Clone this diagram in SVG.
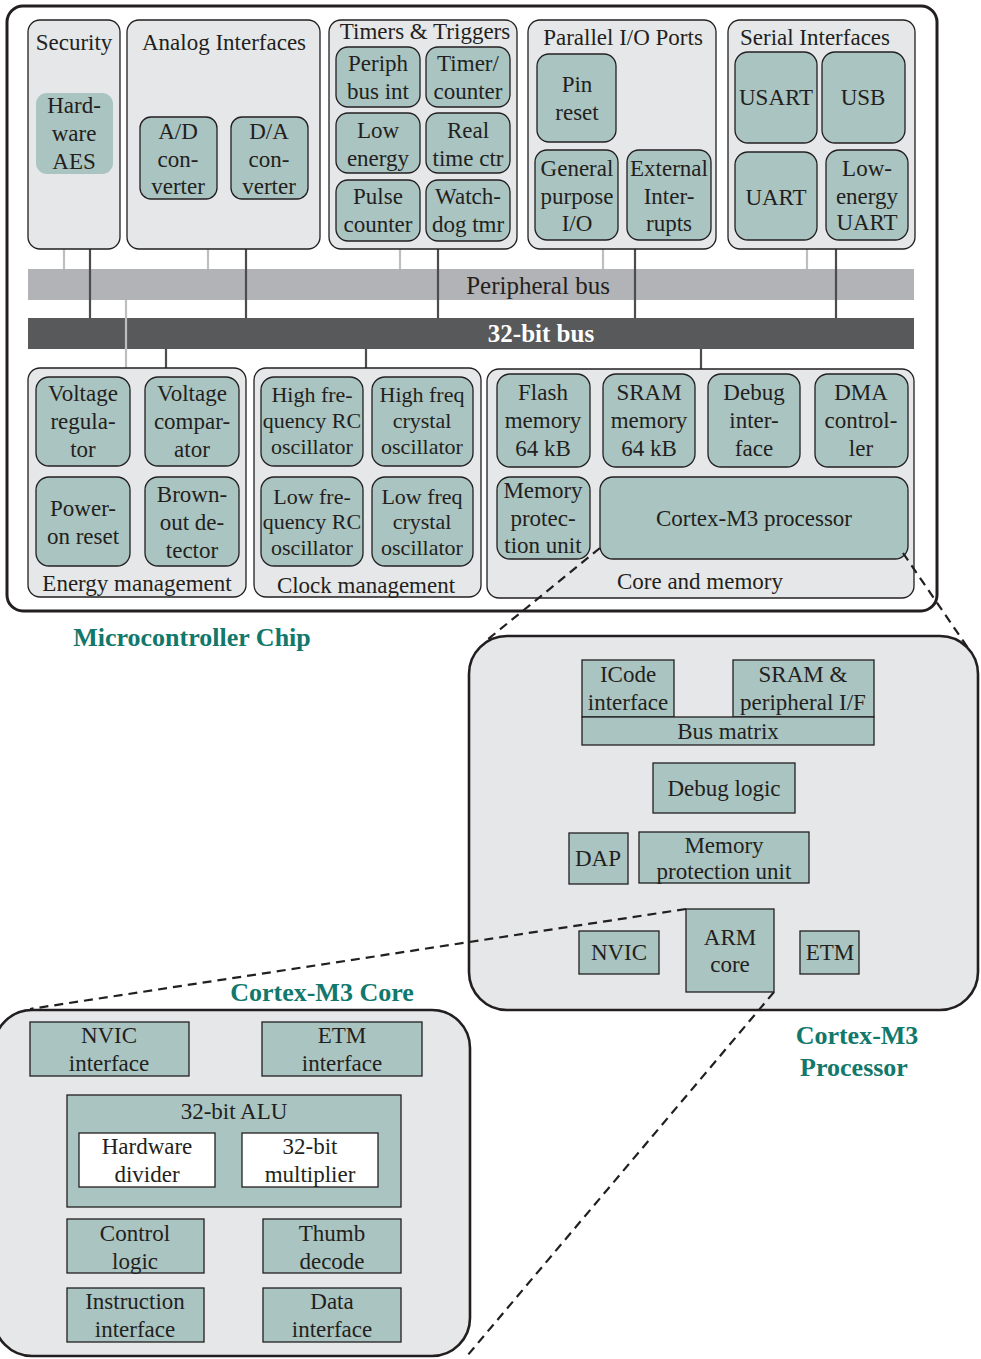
<svg xmlns="http://www.w3.org/2000/svg" width="981" height="1359" viewBox="0 0 981 1359">
<defs>
<style>
text{font-family:"Liberation Serif","Times New Roman",serif;fill:#231f20;text-anchor:middle}
.t{font-size:23px}
.s{font-size:22px}
.panel{fill:#e6e7e8;stroke:#231f20;stroke-width:1.3}
.node{fill:#a9c4c1;stroke:#231f20;stroke-width:1.3}
.bigpanel{fill:#e6e7e8;stroke:#231f20;stroke-width:2.6}
.white{fill:#ffffff;stroke:#231f20;stroke-width:1.3}
.lt{stroke:#bcbec0;stroke-width:2.2;fill:none}
.dk{stroke:#4d4d4f;stroke-width:2.2;fill:none}
.dash{stroke:#231f20;stroke-width:2.2;stroke-dasharray:9 6;fill:none}
.lbl{font-weight:bold;fill:#11786b;font-size:26px}
</style>
</defs>
<rect x="7" y="6" width="930" height="605" rx="16" fill="#ffffff" stroke="#231f20" stroke-width="3"/>

<!-- buses -->
<g id="buses">
<rect x="28" y="269" width="886" height="31" fill="#b1b3b6"/>
<text x="538" y="294" style="font-size:25px">Peripheral bus</text>
<rect x="28" y="318" width="886" height="31" fill="#58595b"/>
<text x="541" y="342" style="font-size:25px;font-weight:bold;fill:#ffffff">32-bit bus</text>
</g>

<g id="connectors">
<line class="lt" x1="64" y1="249" x2="64" y2="269"/>
<line class="lt" x1="208" y1="249" x2="208" y2="269"/>
<line class="lt" x1="400" y1="249" x2="400" y2="269"/>
<line class="lt" x1="603" y1="249" x2="603" y2="269"/>
<line class="lt" x1="807" y1="249" x2="807" y2="269"/>
<line class="dk" x1="90" y1="249" x2="90" y2="318"/>
<line class="dk" x1="246" y1="249" x2="246" y2="318"/>
<line class="dk" x1="438" y1="249" x2="438" y2="318"/>
<line class="dk" x1="635" y1="249" x2="635" y2="318"/>
<line class="dk" x1="836" y1="249" x2="836" y2="318"/>
<line class="lt" x1="126" y1="300" x2="126" y2="369"/>
<line class="dk" x1="166" y1="349" x2="166" y2="369"/>
<line class="dk" x1="366" y1="349" x2="366" y2="369"/>
<line class="dk" x1="701" y1="349" x2="701" y2="369"/>
</g>

<!-- Security -->
<g id="security">
<rect class="panel" x="28" y="20" width="92" height="229" rx="12"/>
<text class="t" x="74" y="50">Security</text>
<rect x="36" y="93" width="77" height="81" rx="11" fill="#a9c4c1"/>
<text class="t" x="74" y="113">Hard-</text><text class="t" x="74" y="141">ware</text><text class="t" x="74" y="169">AES</text>
</g>

<!-- Analog -->
<g id="analog">
<rect class="panel" x="127" y="20" width="193" height="229" rx="12"/>
<text class="t" x="224" y="50">Analog Interfaces</text>
<rect class="node" x="140" y="117" width="77" height="82" rx="11"/>
<text class="t" x="178" y="139">A/D</text><text class="t" x="178" y="167">con-</text><text class="t" x="178" y="194">verter</text>
<rect class="node" x="231" y="117" width="77" height="82" rx="11"/>
<text class="t" x="269" y="139">D/A</text><text class="t" x="269" y="167">con-</text><text class="t" x="269" y="194">verter</text>
</g>

<!-- Timers -->
<g id="timers">
<rect class="panel" x="329" y="20" width="188" height="229" rx="12"/>
<text class="t" x="425" y="39">Timers &amp; Triggers</text>
<rect class="node" x="336" y="47" width="84" height="60" rx="12"/>
<text class="t" x="378" y="71">Periph</text><text class="t" x="378" y="99">bus int</text>
<rect class="node" x="426" y="47" width="84" height="60" rx="12"/>
<text class="t" x="468" y="71">Timer/</text><text class="t" x="468" y="99">counter</text>
<rect class="node" x="336" y="113" width="84" height="60" rx="12"/>
<text class="t" x="378" y="138">Low</text><text class="t" x="378" y="166">energy</text>
<rect class="node" x="426" y="113" width="84" height="60" rx="12"/>
<text class="t" x="468" y="138">Real</text><text class="t" x="468" y="166">time ctr</text>
<rect class="node" x="336" y="180" width="84" height="61" rx="12"/>
<text class="t" x="378" y="204">Pulse</text><text class="t" x="378" y="232">counter</text>
<rect class="node" x="426" y="180" width="84" height="61" rx="12"/>
<text class="t" x="468" y="204">Watch-</text><text class="t" x="468" y="232">dog tmr</text>
</g>

<!-- Parallel IO -->
<g id="parallel">
<rect class="panel" x="528" y="20" width="188" height="229" rx="12"/>
<text class="t" x="623" y="45">Parallel I/O Ports</text>
<rect class="node" x="537" y="54" width="79" height="88" rx="12"/>
<text class="t" x="577" y="92">Pin</text><text class="t" x="577" y="120">reset</text>
<rect class="node" x="535" y="150" width="83" height="90" rx="12"/>
<text class="t" x="577" y="176">General</text><text class="t" x="577" y="204">purpose</text><text class="t" x="577" y="231">I/O</text>
<rect class="node" x="627" y="150" width="84" height="90" rx="12"/>
<text class="t" x="669" y="176">External</text><text class="t" x="669" y="204">Inter-</text><text class="t" x="669" y="231">rupts</text>
</g>

<!-- Serial -->
<g id="serial">
<rect class="panel" x="728" y="20" width="187" height="229" rx="12"/>
<text class="t" x="815" y="45">Serial Interfaces</text>
<rect class="node" x="735" y="52" width="82" height="91" rx="13"/>
<text class="t" x="776" y="105">USART</text>
<rect class="node" x="822" y="52" width="83" height="91" rx="13"/>
<text class="t" x="863" y="105">USB</text>
<rect class="node" x="735" y="152" width="82" height="88" rx="13"/>
<text class="t" x="776" y="205">UART</text>
<rect class="node" x="826" y="150" width="82" height="90" rx="13"/>
<text class="t" x="867" y="176">Low-</text><text class="t" x="867" y="204">energy</text><text class="t" x="867" y="230">UART</text>
</g>

<!-- Energy -->
<g id="energy">
<rect class="panel" x="28" y="368" width="218" height="229" rx="12"/>
<rect class="node" x="36" y="377" width="94" height="89" rx="13"/>
<text class="t" x="83" y="401">Voltage</text><text class="t" x="83" y="429">regula-</text><text class="t" x="83" y="457">tor</text>
<rect class="node" x="145" y="377" width="94" height="89" rx="13"/>
<text class="t" x="192" y="401">Voltage</text><text class="t" x="192" y="429">compar-</text><text class="t" x="192" y="457">ator</text>
<rect class="node" x="36" y="477" width="94" height="89" rx="13"/>
<text class="t" x="83" y="516">Power-</text><text class="t" x="83" y="544">on reset</text>
<rect class="node" x="145" y="477" width="94" height="89" rx="13"/>
<text class="t" x="192" y="502">Brown-</text><text class="t" x="192" y="530">out de-</text><text class="t" x="192" y="558">tector</text>
<text class="t" x="137" y="591">Energy management</text>
</g>

<!-- Clock -->
<g id="clock">
<rect class="panel" x="254" y="368" width="227" height="229" rx="12"/>
<rect class="node" x="261" y="377" width="102" height="89" rx="13"/>
<text class="s" x="312" y="402">High fre-</text><text class="s" x="312" y="428">quency RC</text><text class="s" x="312" y="454">oscillator</text>
<rect class="node" x="372" y="377" width="101" height="89" rx="13"/>
<text class="s" x="422" y="402">High freq</text><text class="s" x="422" y="428">crystal</text><text class="s" x="422" y="454">oscillator</text>
<rect class="node" x="261" y="477" width="102" height="89" rx="13"/>
<text class="s" x="312" y="504">Low fre-</text><text class="s" x="312" y="529">quency RC</text><text class="s" x="312" y="555">oscillator</text>
<rect class="node" x="372" y="477" width="101" height="89" rx="13"/>
<text class="s" x="422" y="504">Low freq</text><text class="s" x="422" y="529">crystal</text><text class="s" x="422" y="555">oscillator</text>
<text class="t" x="366" y="593">Clock management</text>
</g>

<!-- Core and memory -->
<g id="corememory">
<rect class="panel" x="487" y="369" width="427" height="229" rx="12"/>
<rect class="node" x="497" y="374" width="93" height="93" rx="13"/>
<text class="t" x="543" y="400">Flash</text><text class="t" x="543" y="428">memory</text><text class="t" x="543" y="456">64 kB</text>
<rect class="node" x="603" y="374" width="92" height="93" rx="13"/>
<text class="t" x="649" y="400">SRAM</text><text class="t" x="649" y="428">memory</text><text class="t" x="649" y="456">64 kB</text>
<rect class="node" x="708" y="374" width="92" height="93" rx="13"/>
<text class="t" x="754" y="400">Debug</text><text class="t" x="754" y="428">inter-</text><text class="t" x="754" y="456">face</text>
<rect class="node" x="815" y="374" width="93" height="93" rx="13"/>
<text class="t" x="861" y="400">DMA</text><text class="t" x="861" y="428">control-</text><text class="t" x="861" y="456">ler</text>
<rect class="node" x="497" y="477" width="93" height="82" rx="13"/>
<text class="t" x="543" y="498">Memory</text><text class="t" x="543" y="526">protec-</text><text class="t" x="543" y="553">tion unit</text>
<rect id="cortex-m3-processor-node" class="node" x="600" y="477" width="308" height="82" rx="13"/>
<text class="t" x="754" y="526">Cortex-M3 processor</text>
<text class="t" x="700" y="589">Core and memory</text>
</g>

<text class="lbl" x="192" y="646">Microcontroller Chip</text>

<!-- Cortex-M3 Processor panel -->
<g id="processor">
<rect class="bigpanel" x="469" y="636" width="509" height="374" rx="38"/>
<rect class="node" x="582" y="660" width="92" height="57"/>
<text class="t" x="628" y="682">ICode</text><text class="t" x="628" y="710">interface</text>
<rect class="node" x="733" y="660" width="141" height="57"/>
<text class="t" x="803" y="682">SRAM &amp;</text><text class="t" x="803" y="710">peripheral I/F</text>
<rect class="node" x="582" y="717" width="292" height="28"/>
<text class="t" x="728" y="739">Bus matrix</text>
<rect class="node" x="653" y="763" width="142" height="50"/>
<text class="t" x="724" y="796">Debug logic</text>
<rect class="node" x="569" y="833" width="59" height="51"/>
<text class="t" x="598" y="866">DAP</text>
<rect class="node" x="639" y="832" width="170" height="51"/>
<text class="t" x="724" y="853">Memory</text><text class="t" x="724" y="879">protection unit</text>
<rect class="node" x="579" y="931" width="80" height="43"/>
<text class="t" x="619" y="960">NVIC</text>
<rect class="node" x="686" y="909" width="88" height="83"/>
<text class="t" x="730" y="945">ARM</text><text class="t" x="730" y="972">core</text>
<rect class="node" x="800" y="931" width="59" height="43"/>
<text class="t" x="830" y="960">ETM</text>
</g>
<text class="lbl" x="857" y="1044">Cortex-M3</text>
<text class="lbl" x="854" y="1076">Processor</text>

<!-- Cortex-M3 Core panel -->
<g id="core">
<rect class="bigpanel" x="-6" y="1010" width="476" height="346" rx="38"/>
<rect class="node" x="30" y="1022" width="159" height="54"/>
<text class="t" x="109" y="1043">NVIC</text><text class="t" x="109" y="1071">interface</text>
<rect class="node" x="262" y="1022" width="160" height="54"/>
<text class="t" x="342" y="1043">ETM</text><text class="t" x="342" y="1071">interface</text>
<rect class="node" x="67" y="1095" width="334" height="112"/>
<text class="t" x="234" y="1119">32-bit ALU</text>
<rect class="white" x="79" y="1133" width="136" height="54"/>
<text class="t" x="147" y="1154">Hardware</text><text class="t" x="147" y="1182">divider</text>
<rect class="white" x="242" y="1133" width="136" height="54"/>
<text class="t" x="310" y="1154">32-bit</text><text class="t" x="310" y="1182">multiplier</text>
<rect class="node" x="67" y="1219" width="137" height="54"/>
<text class="t" x="135" y="1241">Control</text><text class="t" x="135" y="1269">logic</text>
<rect class="node" x="263" y="1219" width="138" height="54"/>
<text class="t" x="332" y="1241">Thumb</text><text class="t" x="332" y="1269">decode</text>
<rect class="node" x="67" y="1288" width="137" height="54"/>
<text class="t" x="135" y="1309">Instruction</text><text class="t" x="135" y="1337">interface</text>
<rect class="node" x="263" y="1288" width="138" height="54"/>
<text class="t" x="332" y="1309">Data</text><text class="t" x="332" y="1337">interface</text>
</g>
<text class="lbl" x="322" y="1001">Cortex-M3 Core</text>

<g id="zoom-connectors">
<line class="dash" x1="600" y1="548" x2="487" y2="640"/>
<line class="dash" x1="903" y1="553" x2="968" y2="648"/>
<line class="dash" x1="686" y1="909" x2="30" y2="1009"/>
<line class="dash" x1="774" y1="992" x2="467" y2="1356"/>
</g>
</svg>
